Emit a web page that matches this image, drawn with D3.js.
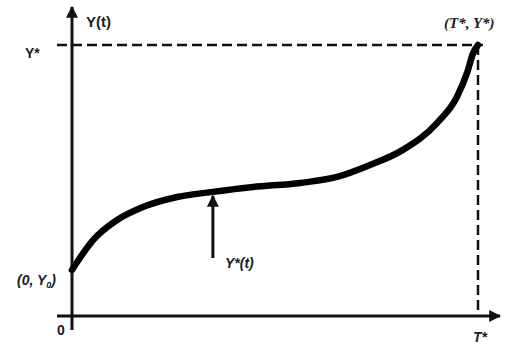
<!DOCTYPE html>
<html>
<head>
<meta charset="utf-8">
<script src="https://cdn.jsdelivr.net/npm/d3@7"></script>
<style>
  body { margin: 0; background: #fff; }
  text { font-family: "Liberation Sans", Arial, sans-serif; font-weight: bold; fill: #1c1c24; }
</style>
</head>
<body>
<svg id="chart" width="505" height="346"></svg>
<script>
// optimal path Y*(t), t and y as fractions of T* and Y*
let tValues = [0, 0.052, 0.111, 0.175, 0.259, 0.347, 0.446, 0.562, 0.653, 0.734, 0.815, 0.899, 0.948, 0.973, 0.988, 1];
let yValues = [0.17, 0.28, 0.354, 0.402, 0.439, 0.458, 0.476, 0.491, 0.513, 0.557, 0.613, 0.712, 0.808, 0.897, 0.97, 1];
let endLabels = ["0", "T*"];
let levelLabels = ["(0, Y0)", "Y*"];

let svg = d3.select("#chart");

let xScale = d3.scaleLinear().domain([0, 1]).range([72, 478]);
let yScale = d3.scaleLinear().domain([0, 1]).range([316, 45]);

let data = tValues.map((t, i) => ({ t: t, y: yValues[i] }));

// arrow head
svg.append("defs").append("marker")
  .attr("id", "head")
  .attr("viewBox", "0 0 10 10")
  .attr("refX", 9).attr("refY", 5)
  .attr("markerWidth", 4).attr("markerHeight", 4)
  .attr("markerUnits", "strokeWidth")
  .attr("orient", "auto")
  .append("path")
  .attr("d", "M0,0 L10,5 L0,10 Z")
  .attr("fill", "#111");

// dashed guides at Y* and T*
svg.append("line")
  .attr("x1", xScale(0) - 15).attr("x2", xScale(1) + 5)
  .attr("y1", yScale(1)).attr("y2", yScale(1))
  .attr("stroke", "#111").attr("stroke-width", 2.5)
  .attr("stroke-dasharray", "10,5");

svg.append("line")
  .attr("x1", xScale(1)).attr("x2", xScale(1))
  .attr("y1", yScale(1)).attr("y2", yScale(0))
  .attr("stroke", "#111").attr("stroke-width", 2.5)
  .attr("stroke-dasharray", "10,5");

// axes
svg.append("line")
  .attr("x1", xScale(0)).attr("x2", xScale(0))
  .attr("y1", yScale(0) + 14).attr("y2", 7)
  .attr("stroke", "#111").attr("stroke-width", 3)
  .attr("marker-end", "url(#head)");

svg.append("line")
  .attr("x1", xScale(0) - 15).attr("x2", 500)
  .attr("y1", yScale(0)).attr("y2", yScale(0))
  .attr("stroke", "#111").attr("stroke-width", 3)
  .attr("marker-end", "url(#head)");

// the curve
let line = d3.line()
  .x(d => xScale(d.t))
  .y(d => yScale(d.y))
  .curve(d3.curveMonotoneX);

svg.append("path")
  .datum(data)
  .attr("d", line)
  .attr("fill", "none")
  .attr("stroke", "#000")
  .attr("stroke-width", 6.5)
  .attr("stroke-linecap", "round");

// pointer to the curve
let pointT = 0.347;
svg.append("line")
  .attr("x1", xScale(pointT)).attr("x2", xScale(pointT))
  .attr("y1", 258).attr("y2", yScale(0.458) + 4)
  .attr("stroke", "#111").attr("stroke-width", 3)
  .attr("marker-end", "url(#head)");

// labels
svg.append("text").attr("x", 86).attr("y", 27).attr("font-size", 15).text("Y(t)");

svg.append("text").attr("x", 25).attr("y", 58).attr("font-size", 14).text(levelLabels[1]);

let y0 = svg.append("text").attr("x", 17).attr("y", 285).attr("font-size", 14).attr("font-style", "italic");
y0.append("tspan").text("(0, Y");
y0.append("tspan").attr("font-size", 9).attr("dy", 3).text("0");
y0.append("tspan").attr("dy", -3).text(")");

svg.append("text").attr("x", 57).attr("y", 335).attr("font-size", 14).text(endLabels[0]);

svg.append("text").attr("x", 473).attr("y", 342).attr("font-size", 14).attr("font-style", "italic").text(endLabels[1]);

svg.append("text").attr("x", 444).attr("y", 28).attr("font-size", 15).attr("font-style", "italic")
  .style("font-family", "'Liberation Serif', serif").text("(T*, Y*)");

svg.append("text").attr("x", 225).attr("y", 268).attr("font-size", 14).attr("font-style", "italic").text("Y*(t)");
</script>
</body>
</html>
